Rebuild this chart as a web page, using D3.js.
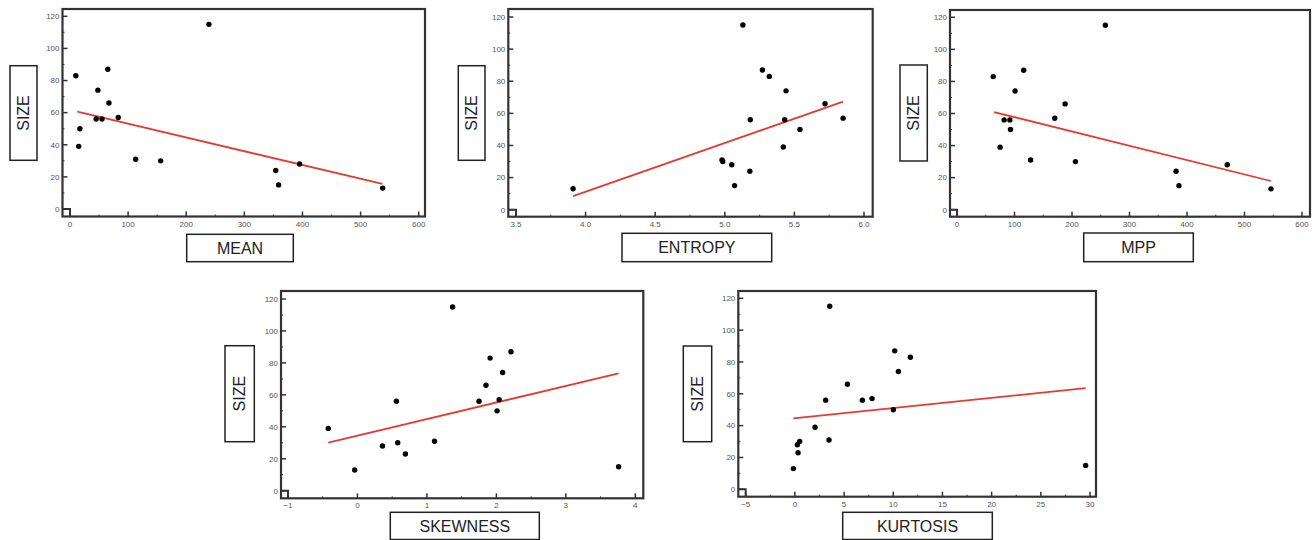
<!DOCTYPE html>
<html>
<head>
<meta charset="utf-8">
<script src="https://cdn.jsdelivr.net/npm/d3@7"></script>
<style>
  html, body { margin: 0; padding: 0; background: #fff; }
  svg { display: block; }
</style>
</head>
<body>
<svg id="chart" width="1314" height="540"></svg>
<script>
// ---------- data ----------
const meanX    = [10, 17, 15, 48, 45, 55, 65, 67, 83, 113, 156, 239, 354, 359, 395, 538];
const meanSize = [83, 50, 39, 74, 56, 56, 87, 66, 57, 31, 30, 115, 24, 15, 28, 13];
const meanFitX = [12.6, 537.6];
const meanFitY = [60.6, 15.6];

const entropyX    = [3.91, 4.98, 4.985, 5.05, 5.07, 5.13, 5.18, 5.183, 5.27, 5.32, 5.42, 5.43, 5.44, 5.54, 5.72, 5.85];
const entropySize = [13, 31, 30, 28, 15, 115, 24, 56, 87, 83, 39, 56, 74, 50, 66, 57];
const entropyFitX = [3.91, 5.85];
const entropyFitY = [8.5, 67.3];

const mppX    = [63, 75, 82, 92, 93, 101, 116, 128, 170, 188, 206, 258, 381, 386, 470, 546];
const mppSize = [83, 39, 56, 56, 50, 74, 87, 31, 57, 66, 30, 115, 24, 15, 28, 13];
const mppFitX = [64.3, 546];
const mppFitY = [60.9, 17.9];

const skewX    = [-0.42, -0.04, 0.36, 0.56, 0.58, 0.69, 1.11, 1.37, 1.75, 1.85, 1.91, 2.01, 2.04, 2.09, 2.21, 3.76];
const skewSize = [39, 13, 28, 56, 30, 23, 31, 115, 56, 66, 83, 50, 57, 74, 87, 15];
const skewFitX = [-0.42, 3.76];
const skewFitY = [30.1, 73.5];

const kurtX    = [-0.15, 0.25, 0.32, 0.49, 2.05, 3.13, 3.47, 3.54, 5.34, 6.86, 7.84, 10.01, 10.15, 10.52, 11.74, 29.56];
const kurtSize = [13, 28, 23, 30, 39, 56, 31, 115, 66, 56, 57, 50, 87, 74, 83, 15];
const kurtFitX = [-0.15, 29.56];
const kurtFitY = [44.6, 63.5];

const sizeTicks      = [0, 20, 40, 60, 80, 100, 120];
const sizeMinorTicks = [10, 30, 50, 70, 90, 110];

const meanTicks    = [0, 100, 200, 300, 400, 500, 600];
const meanMinor    = [50, 150, 250, 350, 450, 550];
const entropyTicks = [3.5, 4.0, 4.5, 5.0, 5.5, 6.0];
const entropyMinor = [3.75, 4.25, 4.75, 5.25, 5.75];
const mppTicks     = [0, 100, 200, 300, 400, 500, 600];
const mppMinor     = [50, 150, 250, 350, 450, 550];
const skewTicks    = [-1, 0, 1, 2, 3, 4];
const skewMinor    = [-0.5, 0.5, 1.5, 2.5, 3.5];
const kurtTicks    = [-5, 0, 5, 10, 15, 20, 25, 30];
const kurtMinor    = [-2.5, 2.5, 7.5, 12.5, 17.5, 22.5, 27.5];

// ---------- layout ----------
const panels = [
  { label: "MEAN", xs: meanX, ys: meanSize, fx: meanFitX, fy: meanFitY,
    ticks: meanTicks, minor: meanMinor, fmt: d3.format("d"),
    frame: [62.5, 9, 425, 216.5], xr: [70, 418.7], yr: [209, 16.3],
    ybox: [10, 65.7, 37, 160.3], xbox: [186.7, 234.3, 293.3, 261.7] },
  { label: "ENTROPY", xs: entropyX, ys: entropySize, fx: entropyFitX, fy: entropyFitY,
    ticks: entropyTicks, minor: entropyMinor, fmt: d3.format(".1f"),
    frame: [508.3, 9, 872.7, 216.7], xr: [516, 864], yr: [209.7, 17],
    ybox: [458.3, 65.7, 485, 160.3], xbox: [622, 233.3, 771.7, 261.7] },
  { label: "MPP", xs: mppX, ys: mppSize, fx: mppFitX, fy: mppFitY,
    ticks: mppTicks, minor: mppMinor, fmt: d3.format("d"),
    frame: [950, 10, 1310, 216.7], xr: [957, 1302], yr: [209.7, 17.3],
    ybox: [900, 65, 927.3, 161], xbox: [1083.7, 233, 1193.3, 261.7] },
  { label: "SKEWNESS", xs: skewX, ys: skewSize, fx: skewFitX, fy: skewFitY,
    ticks: skewTicks, minor: skewMinor, fmt: d3.format("d"),
    frame: [281, 291, 643.3, 498.3], xr: [288, 635.3], yr: [490.7, 299],
    ybox: [225, 345.7, 254.3, 441.7], xbox: [390.3, 512.3, 539.3, 539.5] },
  { label: "KURTOSIS", xs: kurtX, ys: kurtSize, fx: kurtFitX, fy: kurtFitY,
    ticks: kurtTicks, minor: kurtMinor, fmt: d3.format("d"),
    frame: [738.3, 291, 1096, 496.7], xr: [745.7, 1090], yr: [489.3, 298.3],
    ybox: [683.3, 346, 711.7, 441.7], xbox: [842.7, 512.3, 992.3, 539.5] }
];

const svg = d3.select("#chart");
const frameColor = "#333";
const tickText = "#555";

panels.forEach(p => {
  const g = svg.append("g");
  const [L, T, R, B] = p.frame;
  const x = d3.scaleLinear().domain([p.ticks[0], p.ticks[p.ticks.length - 1]]).range(p.xr);
  const y = d3.scaleLinear().domain([0, 120]).range(p.yr);

  // frame
  g.append("rect").attr("x", L).attr("y", T).attr("width", R - L).attr("height", B - T)
    .attr("fill", "none").attr("stroke", frameColor).attr("stroke-width", 2.2);

  // corner bracket at origin
  const x0 = x(p.ticks[0]), y0 = y(0);
  g.append("path").attr("d", `M${L},${y0}H${x0}V${B}`)
    .attr("fill", "none").attr("stroke", frameColor).attr("stroke-width", 2);

  // y ticks (inside)
  g.selectAll(".ymaj").data(sizeTicks).join("line")
    .attr("x1", L).attr("x2", L + 5).attr("y1", d => y(d)).attr("y2", d => y(d))
    .attr("stroke", frameColor).attr("stroke-width", 1.5);
  g.selectAll(".ymin").data(sizeMinorTicks).join("line")
    .attr("x1", L).attr("x2", L + 2).attr("y1", d => y(d)).attr("y2", d => y(d))
    .attr("stroke", frameColor).attr("stroke-width", 1);
  g.selectAll(".ylab").data(sizeTicks).join("text")
    .attr("x", L - 3).attr("y", d => y(d)).attr("dy", "0.35em")
    .attr("text-anchor", "end").attr("font-family", "Liberation Sans, Arial, sans-serif")
    .attr("font-size", 8).attr("fill", tickText).text(d => d);

  // x ticks (inside)
  g.selectAll(".xmaj").data(p.ticks).join("line")
    .attr("x1", d => x(d)).attr("x2", d => x(d)).attr("y1", B).attr("y2", B - 5)
    .attr("stroke", frameColor).attr("stroke-width", 1.5);
  g.selectAll(".xmin").data(p.minor).join("line")
    .attr("x1", d => x(d)).attr("x2", d => x(d)).attr("y1", B).attr("y2", B - 2)
    .attr("stroke", frameColor).attr("stroke-width", 1);
  g.selectAll(".xlab").data(p.ticks).join("text")
    .attr("x", d => x(d)).attr("y", B + 10)
    .attr("text-anchor", "middle").attr("font-family", "Liberation Sans, Arial, sans-serif")
    .attr("font-size", 8).attr("fill", tickText).text(d => p.fmt(d));

  // regression line
  g.append("line")
    .attr("x1", x(p.fx[0])).attr("y1", y(p.fy[0]))
    .attr("x2", x(p.fx[1])).attr("y2", y(p.fy[1]))
    .attr("stroke", "#e33b32").attr("stroke-width", 1.8);

  // points
  g.selectAll(".pt").data(p.xs.map((v, i) => [v, p.ys[i]])).join("circle")
    .attr("cx", d => x(d[0])).attr("cy", d => y(d[1])).attr("r", 2.7).attr("fill", "#000");

  // y label box
  const [yb1, yb2, yb3, yb4] = p.ybox;
  g.append("rect").attr("x", yb1).attr("y", yb2).attr("width", yb3 - yb1).attr("height", yb4 - yb2)
    .attr("fill", "#fff").attr("stroke", "#222").attr("stroke-width", 1.5);
  g.append("text")
    .attr("transform", `translate(${(yb1 + yb3) / 2},${(yb2 + yb4) / 2}) rotate(-90)`)
    .attr("dy", "0.36em").attr("text-anchor", "middle")
    .attr("font-family", "Liberation Sans, Arial, sans-serif").attr("font-size", 16)
    .attr("fill", "#222").text("SIZE");

  // x label box
  const [xb1, xb2, xb3, xb4] = p.xbox;
  g.append("rect").attr("x", xb1).attr("y", xb2).attr("width", xb3 - xb1).attr("height", xb4 - xb2)
    .attr("fill", "#fff").attr("stroke", "#222").attr("stroke-width", 1.5);
  g.append("text")
    .attr("x", (xb1 + xb3) / 2).attr("y", (xb2 + xb4) / 2).attr("dy", "0.36em")
    .attr("text-anchor", "middle")
    .attr("font-family", "Liberation Sans, Arial, sans-serif").attr("font-size", 16)
    .attr("fill", "#222").text(p.label);
});
</script>
</body>
</html>
